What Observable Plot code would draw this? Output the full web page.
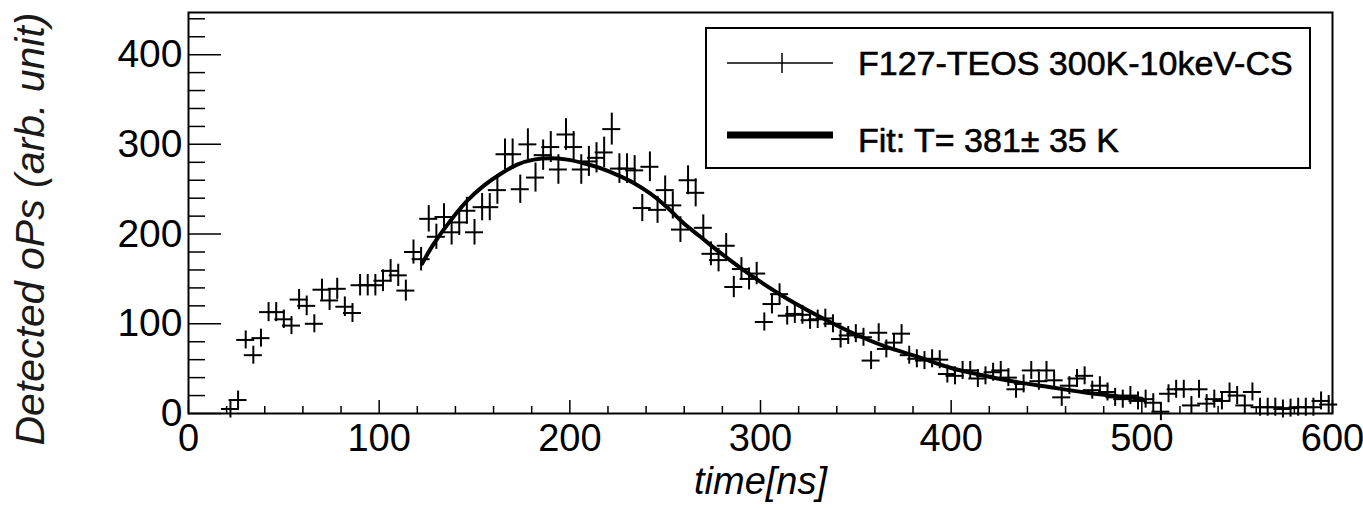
<!DOCTYPE html>
<html><head><meta charset="utf-8">
<script src="https://cdn.jsdelivr.net/npm/d3@7"></script>
<script src="https://cdn.jsdelivr.net/npm/@observablehq/plot@0.6"></script>
<style>
body{margin:0;background:#fff;}
#wrap{position:relative;width:1363px;height:510px;font-family:"Liberation Sans",Arial,sans-serif;}
#legend{position:absolute;left:705px;top:27px;width:602px;height:138px;border:2px solid #000;background:#fff;}
#legend svg{position:absolute;left:0;top:0;overflow:visible}
</style></head><body><div id="wrap"></div>
<script>
// Histogram bin centres (ns) and detected counts
const times = [
22,26,30,34,38,42,46,50,54,58,
62,66,70,74,78,82,86,90,94,98,
102,106,110,114,118,122,126,130,134,138,
142,146,150,154,158,162,166,170,174,178,
182,186,190,194,198,202,206,210,214,218,
222,226,230,234,238,242,246,250,254,258,
262,266,270,274,278,282,286,290,294,298,
302,306,310,314,318,322,326,330,334,338,
342,346,350,354,358,362,366,370,374,378,
382,386,390,394,398,402,406,410,414,418,
422,426,430,434,438,442,446,450,454,458,
462,466,470,474,478,482,486,490,494,498,
502,506,510,514,518,522,526,530,534,538,
542,546,550,554,558,562,566,570,574,578,
582,586,590,594,598];
const counts = [
5,15,82,65,84,113,113,105,98,127,
120,100,138,126,139,119,112,143,143,143,
148,159,154,137,180,172,217,197,219,202,
213,226,202,230,230,249,289,289,250,300,
263,288,297,272,311,297,272,281,285,291,
317,273,273,271,229,275,227,249,232,205,
260,246,207,178,171,187,141,161,150,156,
102,122,133,109,111,110,104,105,106,100,
83,87,89,85,59,90,72,79,89,65,
61,59,61,60,44,42,48,48,39,42,
46,48,40,27,33,48,36,48,37,18,
31,39,42,26,31,24,18,16,20,14,
16,12,2,22,27,27,9,27,11,16,
14,24,20,9,24,7,7,7,5,6,
7,7,7,14,10];
// Fit curve
const fitT = [122.5,128.6,137.4,146.1,154.9,163.6,172.4,181.1,189.8,198.6,207.3,216,224.8,233.5,242.3,251,259.7,268.5,279,296.4,314,331.4,348,365,383,399.6,417,434.6,452,469.5,483.5,492,500];
const fitV = [167,189,215,237,254,267,277.5,283,284.6,283,279,273.5,266,257,245,230,212,197,179,152,128,107.5,90,75,62.8,51,42.4,35,29.3,23.7,20,18,16.5];
// Axis ticks
const xMajor = [0,100,200,300,400,500,600];
const xMinor = [0,20,40,60,80,100,120,140,160,180,200,220,240,260,280,300,320,340,360,380,400,420,440,460,480,500,520,540,560,580,600];
const yMajor = [0,100,200,300,400];
const yMinor = [0,20,40,60,80,100,120,140,160,180,200,220,240,260,280,300,320,340,360,380,400,420,440];
const seriesLabel = "F127-TEOS 300K-10keV-CS";
const fitLabel = "Fit: T= 381\u00b1 35 K";

const W = 1363, H = 510, mL = 188, mR = 31, mT = 12, mB = 97;
const xMax = 600, yMax = 447;
const kx = (W - mL - mR) / xMax;   // px per ns
const ky = (H - mT - mB) / yMax;   // px per count

const pts = times.map((t, i) => ({t, v: counts[i]}));
const fit = fitT.map((t, i) => ({t, v: fitV[i]}));
const arm = 9;   // marker half-size in px
const half = d => Math.max(arm / ky, Math.sqrt(d.v));

const chart = Plot.plot({
  width: W, height: H,
  marginLeft: mL, marginRight: mR, marginTop: mT, marginBottom: mB,
  style: {fontFamily: "'Liberation Sans', Arial, sans-serif", background: "#fff", color: "#000"},
  x: {domain: [0, xMax], label: null},
  y: {domain: [0, yMax], label: null},
  marks: [
    Plot.ruleX(xMinor, {x: d => d, y1: 0, y2: d => (d % 100 === 0 ? 13 : 7) / ky, stroke: "#000", strokeWidth: 1.5}),
    Plot.ruleY(yMinor, {y: d => d, x1: 0, x2: d => (d % 100 === 0 ? 33 : 17) / kx, stroke: "#000", strokeWidth: 1.5}),
    Plot.axisX({ticks: xMajor, tickSize: 0, tickPadding: 11, fontSize: 38, tickFormat: d => String(d), label: null}),
    Plot.axisY({ticks: yMajor, tickSize: 0, tickPadding: 6, fontSize: 39, tickFormat: d => String(d), label: null}),
    Plot.ruleY(pts, {y: "v", x1: d => d.t - arm / kx, x2: d => d.t + arm / kx, stroke: "#000", strokeWidth: 2}),
    Plot.ruleX(pts, {x: "t", y1: d => d.v - half(d), y2: d => d.v + half(d), stroke: "#000", strokeWidth: 2}),
    Plot.line(fit, {x: "t", y: "v", curve: "catmull-rom", stroke: "#000", strokeWidth: 4}),
    Plot.frame({stroke: "#000", strokeWidth: 2}),
    Plot.text(["Detected oPs (arb. unit)"], {frameAnchor: "top-left", rotate: -90, textAnchor: "end", dx: -174, fontSize: 41, fontStyle: "italic", fill: "#1a1a1a"}),
    Plot.text(["time[ns]"], {frameAnchor: "bottom", dy: 80, fontSize: 38, fontStyle: "italic", fill: "#000"})
  ]
});
const wrap = document.getElementById("wrap");
wrap.appendChild(chart);

// Legend box (inside the frame, top right)
const lg = document.createElement("div");
lg.id = "legend";
const ns = "http://www.w3.org/2000/svg";
const s = document.createElementNS(ns, "svg");
s.setAttribute("width", 602); s.setAttribute("height", 138);
function ln(x1, y1, x2, y2, w) {
  const l = document.createElementNS(ns, "line");
  l.setAttribute("x1", x1); l.setAttribute("y1", y1); l.setAttribute("x2", x2); l.setAttribute("y2", y2);
  l.setAttribute("stroke", "#000"); l.setAttribute("stroke-width", w);
  s.appendChild(l);
}
function tx(x, y, str) {
  const t = document.createElementNS(ns, "text");
  t.setAttribute("x", x); t.setAttribute("y", y);
  t.setAttribute("font-family", "'Liberation Sans', Arial, sans-serif");
  t.setAttribute("font-size", 34);
  t.setAttribute("fill", "#000"); t.setAttribute("stroke", "#000"); t.setAttribute("stroke-width", 0.6);
  t.textContent = str;
  s.appendChild(t);
}
ln(20, 34, 126, 34, 1.5);
ln(75, 24, 75, 44, 1.5);
ln(20, 106, 126, 106, 7);
tx(151, 46, seriesLabel);
tx(151, 123, fitLabel);
lg.appendChild(s);
wrap.appendChild(lg);
</script></body></html>
